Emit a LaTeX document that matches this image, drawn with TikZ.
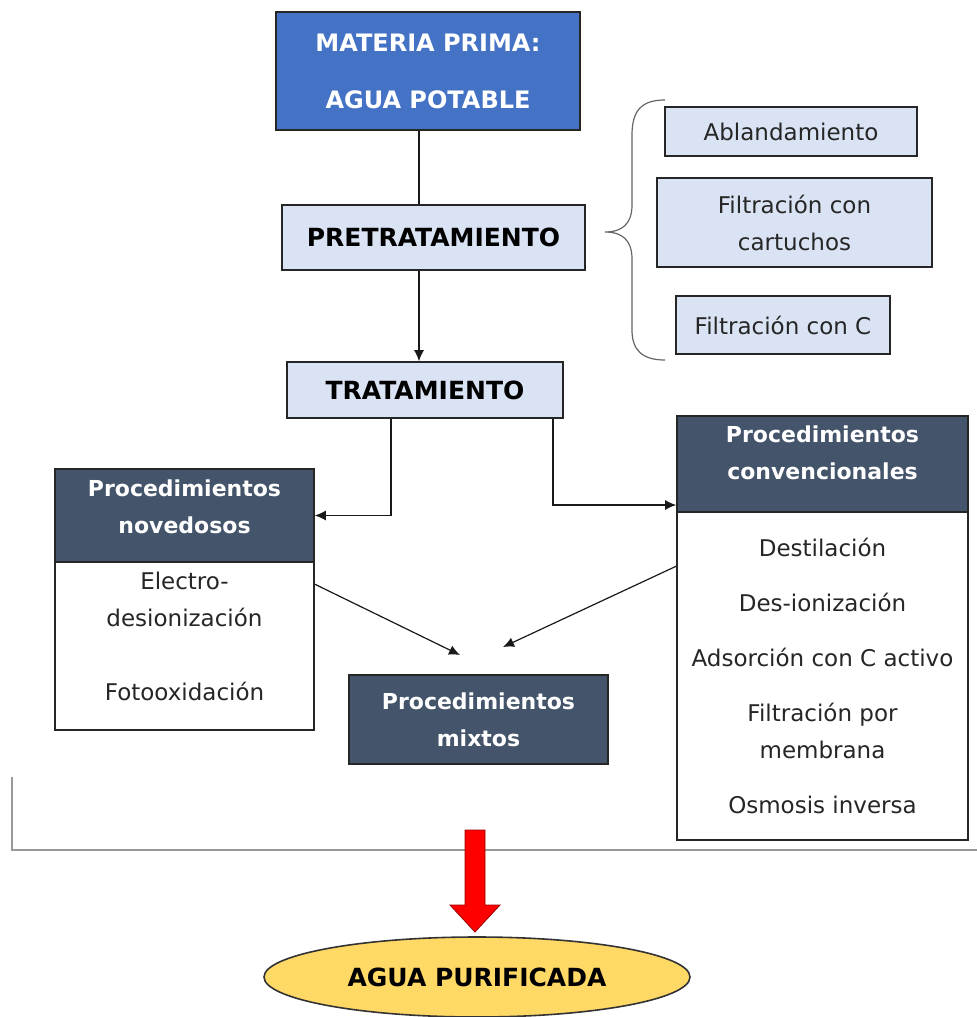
\documentclass[tikz,border=0pt]{standalone}
\usepackage{fontspec}
\setmainfont{DejaVu Sans}
\usetikzlibrary{arrows.meta,positioning,shapes.geometric,calc,decorations.pathreplacing}

\definecolor{rawblue}{HTML}{4472C4}
\definecolor{paleblue}{HTML}{DAE3F3}
\definecolor{slate}{HTML}{44546A}
\definecolor{gold}{HTML}{FFD966}

\tikzset{
  box/.style={draw=black!85, thick, inner sep=0pt, align=center},
  rawbox/.style={box, fill=rawblue, text=white, font=\bfseries\fontsize{12}{28.5}\selectfont},
  stagebox/.style={box, fill=paleblue, font=\bfseries\fontsize{12.5}{15}\selectfont},
  optbox/.style={box, fill=paleblue, text=black!85, font=\fontsize{11.5}{18.5}\selectfont},
  headbox/.style={box, fill=slate, text=white, font=\bfseries\fontsize{11}{18.5}\selectfont},
  headtext/.style={inner sep=0pt, align=center, text=white, font=\bfseries\fontsize{11}{18.5}\selectfont},
  listbox/.style={box, fill=white, text=black!85, font=\fontsize{11.5}{18.5}\selectfont},
  listtext/.style={inner sep=0pt, align=center, text=black!85, font=\fontsize{11.5}{18.5}\selectfont},
  link/.style={-{Latex[length=5.5pt,width=5pt]}, black!90, semithick},
}

\begin{document}
\begin{tikzpicture}[x=0.5pt,y=-0.5pt]
  \useasboundingbox (0,0) rectangle (977,1017);

  %% main line
  \node[rawbox, minimum width=152pt, minimum height=59pt] (raw) at (428,71)
    {MATERIA PRIMA:\\AGUA POTABLE};
  \node[stagebox, minimum width=151.5pt, minimum height=32.5pt] (pre) at (433.5,237.5) {PRETRATAMIENTO};
  \node[stagebox, minimum width=138pt, minimum height=28pt] (trat) at (425,390) {TRATAMIENTO};

  %% pretreatment options
  \node[optbox, minimum width=126pt, minimum height=24.5pt] (abl) at (791,131.5) {Ablandamiento};
  \node[optbox, minimum width=137.5pt, minimum height=44.5pt] (cart) at (794.5,222.5) {Filtración con\\cartuchos};
  \node[optbox, minimum width=107pt, minimum height=29pt] (filc) at (783,325) {Filtración con C};
  \draw[black!60, semithick]
    (665,100) .. controls (642,100) and (632,110) .. (632,135) -- (632,205)
    .. controls (632,224) and (622,232) .. (605,232)
    .. controls (622,232) and (632,240) .. (632,259) -- (632,330)
    .. controls (632,350) and (642,360) .. (665,360);

  %% procedures
  \node[headbox, minimum width=129.5pt, minimum height=46.5pt] (novHead) at (184.5,515.5) {};
  \node[headtext] (novTitle) at (184.5,507) {Procedimientos\\novedosos};
  \node[listbox, minimum width=129.5pt, minimum height=84pt] (novBody) at (184.5,646) {};
  \node[listtext] (novList) at (184.5,636)
    {Electro-\\desionización\\[18.5pt]Fotooxidación};
  \node[headbox, minimum width=145.5pt, minimum height=48pt] (convHead) at (822.5,464) {};
  \node[headtext] (convTitle) at (822.5,453) {Procedimientos\\convencionales};
  \node[listbox, minimum width=145.5pt, minimum height=164pt] (convBody) at (822.5,676)
    {Destilación\\[9pt]Des-ionización\\[9pt]Adsorción con C activo\\[9pt]Filtración por\\membrana\\[9pt]Osmosis inversa};
  \node[headbox, minimum width=129.5pt, minimum height=44.5pt] (mix) at (478.5,719.5)
    {Procedimientos\\mixtos};

  %% connectors
  \draw[black!90, semithick] (raw.south) ++(-9,0) coordinate (ax) -- (ax |- pre.north);
  \draw[link] (ax |- pre.south) -- (ax |- trat.north);
  \draw[link] ([xshift=-17pt]trat.south) |- (novHead.east);
  \draw[link] ([xshift=64pt]trat.south) |- ([yshift=-20.5pt]convHead.west);
  \coordinate (mixL) at (460,655);
  \coordinate (mixR) at (503,647);
  \draw[link] ([yshift=-11.5pt]novBody.north east) -- (mixL);
  \draw[link] ([yshift=-27.5pt]convBody.north west) -- (mixR);

  %% result
  \draw[gray!80, line width=1pt] (12,777) -- (12,850) -- (977,850);
  \node[draw=black!80, thick, ellipse, fill=gold, minimum width=213pt, minimum height=40pt, inner sep=0pt,
    font=\bfseries\fontsize{12.5}{15}\selectfont] (pura) at (477,977) {AGUA PURIFICADA};
  \draw[draw=red!60!black, fill=red] (465,830) -- (485,830) -- (485,905) -- (500,905)
    -- (475,932) -- (450,905) -- (465,905) -- cycle;
\end{tikzpicture}
\end{document}
